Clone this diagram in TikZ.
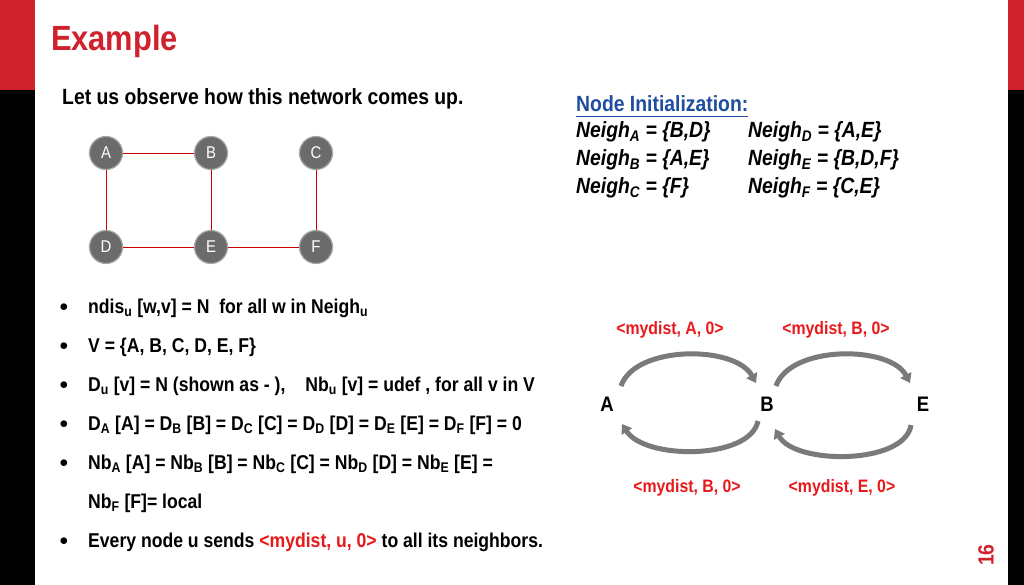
\documentclass[tikz,border=0pt]{standalone}
\usepackage{fontspec}
\setmainfont[FakeStretch=0.88]{Liberation Sans}
\usetikzlibrary{arrows.meta}
\definecolor{myred}{HTML}{D0222C}
\definecolor{lblred}{HTML}{E8191B}
\definecolor{myblue}{HTML}{1F4E9E}
\definecolor{ngray}{HTML}{6B6B6B}
\tikzset{
 netnode/.style={circle,fill=ngray,draw=gray!70,line width=1.2pt,minimum size=33pt,inner sep=0pt,text=white,font=\fontsize{17}{17}\selectfont},
 netedge/.style={draw=red!80!black,line width=0.9pt},
 body/.style={anchor=west,font=\bfseries\fontsize{20}{20}\selectfont,inner sep=0pt},
 bul/.style={font=\fontsize{16}{16}\selectfont,inner sep=0pt},
 msg/.style={text=lblred,font=\bfseries\fontsize{18}{18}\selectfont,inner sep=0pt},
 lett/.style={font=\bfseries\fontsize{21}{21}\selectfont,inner sep=0pt},
 garrow/.style={draw=ngray!90,line width=5pt,-{Triangle[length=9pt,width=12pt]}},
 neigh/.style={anchor=west,font=\bfseries\itshape\fontsize{22}{22}\selectfont,inner sep=0pt}
}
\begin{document}
\begin{tikzpicture}[x=1pt,y=-1pt]
\useasboundingbox (0,0) rectangle (1024,585);
\fill[white] (0,0) rectangle (1024,585);
\fill[myred] (0,0) rectangle (35,90);
\fill[black] (0,90) rectangle (35,585);
\fill[myred] (1008,0) rectangle (1024,90);
\fill[black] (1008,90) rectangle (1024,585);
\node[anchor=west,text=myred,font=\bfseries\fontsize{35}{35}\selectfont,inner sep=0pt] (title) at (51,41) {Example};
\node[body,font=\bfseries\fontsize{22}{22}\selectfont] (intro) at (62,99) {Let us observe how this network comes up.};
% network
\node[netnode] (A) at (106,153) {A};
\node[netnode] (B) at (211,153) {B};
\node[netnode] (C) at (316,153) {C};
\node[netnode] (D) at (106,247) {D};
\node[netnode] (E) at (211,247) {E};
\node[netnode] (F) at (316,247) {F};
\draw[netedge] (A)--(B);
\draw[netedge] (A)--(D);
\draw[netedge] (B)--(E);
\draw[netedge] (D)--(E);
\draw[netedge] (E)--(F);
\draw[netedge] (C)--(F);
% bullets
\foreach \y in {308,347,386,425,464,542}{\node[bul] at (64,\y) {$\bullet$};}
\node[body] (b1) at (88,308) {ndis\textsubscript{u} [w,v] = N\ \ for all w in Neigh\textsubscript{u}};
\node[body] (b2) at (88,347) {V = \{A, B, C, D, E, F\}};
\node[body] (b3) at (88,386) {D\textsubscript{u} [v] = N (shown as - ),\quad Nb\textsubscript{u} [v] = udef , for all v in V};
\node[body] (b4) at (88,425) {D\textsubscript{A} [A] = D\textsubscript{B} [B] = D\textsubscript{C} [C] = D\textsubscript{D} [D] = D\textsubscript{E} [E] = D\textsubscript{F} [F] = 0};
\node[body] (b5) at (88,464) {Nb\textsubscript{A} [A] = Nb\textsubscript{B} [B] = Nb\textsubscript{C} [C] = Nb\textsubscript{D} [D] = Nb\textsubscript{E} [E] =};
\node[body] (b6) at (88,503) {Nb\textsubscript{F} [F]= local};
\node[body] (b7) at (88,542) {Every node u sends \textcolor{lblred}{<mydist, u, 0>} to all its neighbors.};
% node init
\node[anchor=west,text=myblue,font=\bfseries\fontsize{22}{22}\selectfont,inner sep=0pt] (ni) at (576,104) {Node Initialization:};
\draw[myblue,line width=1pt] (576,117) -- (ni.east |- 0,117);
\node[neigh] (n1) at (576,132) {Neigh\textsubscript{A} = \{B,D\}};
\node[neigh] (n2) at (576,160) {Neigh\textsubscript{B} = \{A,E\}};
\node[neigh] (n3) at (576,188) {Neigh\textsubscript{C} = \{F\}};
\node[neigh] (n4) at (748,132) {Neigh\textsubscript{D} = \{A,E\}};
\node[neigh] (n5) at (748,160) {Neigh\textsubscript{E} = \{B,D,F\}};
\node[neigh] (n6) at (748,188) {Neigh\textsubscript{F} = \{C,E\}};
% message diagram
\node[lett] (pA) at (607,404) {A};
\node[lett] (pB) at (767,404) {B};
\node[lett] (pE) at (923,404) {E};
\coordinate (a1) at (621,386); \coordinate (a2) at (756,383);
\coordinate (a3) at (758,421); \coordinate (a4) at (622,424);
\coordinate (b1s) at (776,386); \coordinate (b2e) at (910,383);
\coordinate (b3s) at (911,425); \coordinate (b4e) at (775,429);
\draw[garrow] (a1) .. controls (635,345) and (735,345) .. (a2);
\draw[garrow] (a3) .. controls (750,460) and (645,460) .. (a4);
\draw[garrow] (b1s) .. controls (790,345) and (890,345) .. (b2e);
\draw[garrow] (b3s) .. controls (905,465) and (795,465) .. (b4e);
\node[msg] (m1) at (670,330) {<mydist, A, 0>};
\node[msg] (m2) at (836,330) {<mydist, B, 0>};
\node[msg] (m3) at (687,488) {<mydist, B, 0>};
\node[msg] (m4) at (842,488) {<mydist, E, 0>};
\node[rotate=90,text=myred,font=\bfseries\fontsize{22}{22}\selectfont,inner sep=0pt] (pg) at (986,555) {16};
\end{tikzpicture}
\end{document}
